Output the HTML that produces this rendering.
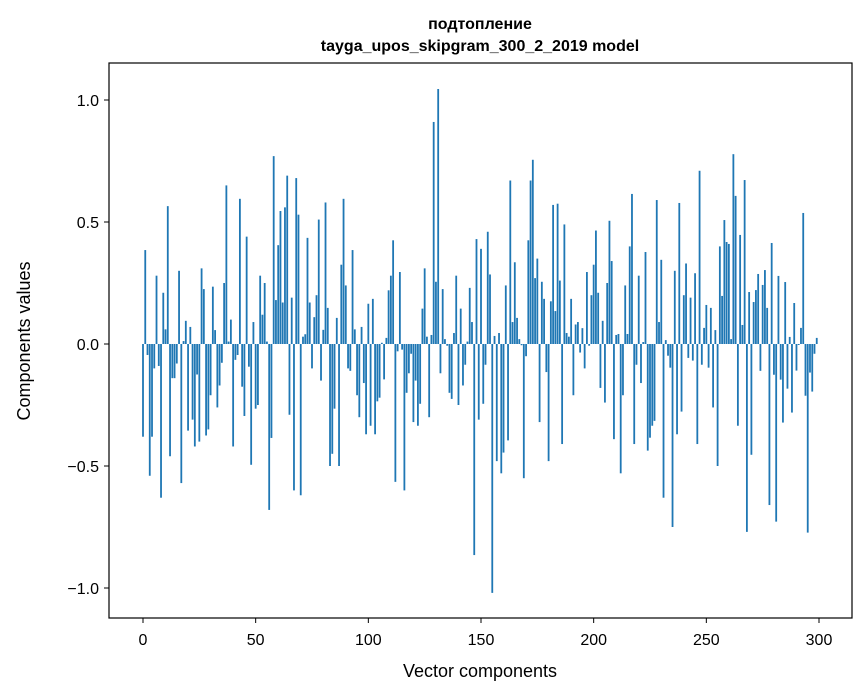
<!DOCTYPE html>
<html><head><meta charset="utf-8">
<style>
html,body{margin:0;padding:0;background:#fff;}
svg{display:block;font-family:"Liberation Sans","DejaVu Sans",sans-serif;}
</style></head>
<body>
<svg id="chart" width="867" height="696" viewBox="0 0 867 696">
<rect width="867" height="696" fill="#fff"/>
<text x="480" y="29" text-anchor="middle" font-size="16" font-weight="bold">подтопление</text>
<text x="480" y="51" text-anchor="middle" font-size="16" font-weight="bold">tayga_upos_skipgram_300_2_2019 model</text>
<g id="bars"></g>
<rect x="109" y="63" width="743" height="555" fill="none" stroke="#000" stroke-width="1.2"/>
<g id="xticks"></g>
<g id="yticks"></g>
<text x="480" y="677" text-anchor="middle" font-size="18">Vector components</text>
<text transform="translate(30,341) rotate(-90)" text-anchor="middle" font-size="18">Components values</text>
</svg>
<script>
const values = [
-0.38,0.385,-0.045,-0.54,-0.38,-0.10,0.28,-0.09,-0.63,0.21,
0.06,0.565,-0.46,-0.14,-0.14,-0.08,0.30,-0.57,0.012,0.095,
-0.355,0.07,-0.31,-0.42,-0.125,-0.40,0.31,0.225,-0.375,-0.35,
-0.21,0.235,0.057,-0.26,-0.17,-0.077,0.25,0.65,0.01,0.10,
-0.42,-0.065,-0.045,0.595,-0.175,-0.295,0.44,-0.093,-0.495,0.09,
-0.265,-0.25,0.28,0.12,0.25,0.01,-0.68,-0.385,0.77,0.18,
0.405,0.545,0.17,0.56,0.69,-0.29,0.19,-0.6,0.68,0.53,
-0.62,0.03,0.04,0.435,0.17,-0.1,0.11,0.2,0.51,-0.15,
0.058,0.58,0.148,-0.5,-0.45,-0.265,0.107,-0.5,0.325,0.595,
0.24,-0.10,-0.11,0.385,0.06,-0.21,-0.30,0.07,-0.16,-0.37,
0.165,-0.335,0.185,-0.37,-0.235,-0.22,0.005,-0.145,0.025,0.22,
0.28,0.425,-0.565,-0.03,0.295,-0.023,-0.6,-0.2,-0.12,-0.04,
-0.32,-0.15,-0.335,-0.245,0.145,0.31,0.03,-0.3,0.037,0.91,
0.255,1.045,-0.12,0.225,0.02,-0.007,-0.2,-0.225,0.045,0.28,
-0.25,0.145,-0.17,-0.085,0.01,0.23,0.09,-0.865,0.43,-0.31,
0.39,-0.245,-0.085,0.46,0.285,-1.02,0.033,-0.48,0.045,-0.53,
-0.445,0.24,-0.395,0.67,0.09,0.335,0.107,0.02,-0.005,-0.55,
-0.05,0.425,0.67,0.755,0.27,0.35,-0.32,0.255,0.185,-0.115,
-0.48,0.175,0.57,0.135,0.575,0.26,-0.41,0.49,0.045,0.03,
0.185,-0.21,0.08,0.09,-0.035,0.065,-0.1,0.295,-0.007,0.2,
0.325,0.465,0.21,-0.18,0.095,-0.24,0.25,0.505,0.34,-0.39,
0.037,0.041,-0.53,-0.21,0.24,0.041,0.40,0.615,-0.41,-0.085,
0.28,-0.16,0.008,0.377,-0.437,-0.384,-0.335,-0.315,0.59,0.09,
0.345,-0.63,0.016,-0.048,-0.097,-0.75,0.3,-0.37,0.578,-0.277,
0.2,0.33,-0.057,0.19,-0.068,0.29,-0.41,0.71,-0.085,0.066,
0.16,-0.097,0.148,-0.26,0.057,-0.5,0.40,0.197,0.508,0.418,
0.41,0.02,0.778,0.607,-0.335,0.447,0.078,0.672,-0.77,0.213,
-0.454,0.172,0.221,0.287,-0.11,0.242,0.303,0.148,-0.66,0.414,
-0.126,-0.728,0.279,-0.146,-0.322,0.254,-0.183,0.029,-0.281,0.168,
-0.109,-0.004,0.066,0.537,-0.212,-0.773,-0.117,-0.195,-0.04,0.025
];
const xTicks = [0,50,100,150,200,250,300];
const yTicks = [-1.0,-0.5,0.0,0.5,1.0];
const yTickLabels = ["\u22121.0","\u22120.5","0.0","0.5","1.0"];

const NS = "http://www.w3.org/2000/svg";
function xScale(v){ return 143 + v * (676/300); }
function yScale(v){ return 344 - v * 244; }
const barW = 0.8 * (676/300);

const barsG = document.getElementById('bars');
values.forEach((v,i)=>{
  const r = document.createElementNS(NS,'rect');
  const y0 = yScale(0), y1 = yScale(v);
  r.setAttribute('x', xScale(i) - barW/2);
  r.setAttribute('y', Math.min(y0,y1));
  r.setAttribute('width', barW);
  r.setAttribute('height', Math.abs(y1-y0));
  r.setAttribute('fill', '#1f77b4');
  
  
  barsG.appendChild(r);
});

const xg = document.getElementById('xticks');
xTicks.forEach(t=>{
  const x = xScale(t);
  const l = document.createElementNS(NS,'line');
  l.setAttribute('x1',x); l.setAttribute('x2',x);
  l.setAttribute('y1',618); l.setAttribute('y2',623);
  l.setAttribute('stroke','#000'); l.setAttribute('stroke-width','1');
  
  
  xg.appendChild(l);
  const tx = document.createElementNS(NS,'text');
  tx.setAttribute('x',x); tx.setAttribute('y',645);
  tx.setAttribute('text-anchor','middle'); tx.setAttribute('font-size','16');
  tx.textContent = t;
  
  
  xg.appendChild(tx);
});

const yg = document.getElementById('yticks');
yTicks.forEach((t,i)=>{
  const y = yScale(t);
  const l = document.createElementNS(NS,'line');
  l.setAttribute('x1',104); l.setAttribute('x2',109);
  l.setAttribute('y1',y); l.setAttribute('y2',y);
  l.setAttribute('stroke','#000'); l.setAttribute('stroke-width','1');
  
  
  yg.appendChild(l);
  const tx = document.createElementNS(NS,'text');
  tx.setAttribute('x',99); tx.setAttribute('y',y+6);
  tx.setAttribute('text-anchor','end'); tx.setAttribute('font-size','16');
  tx.textContent = yTickLabels[i];
  
  
  yg.appendChild(tx);
});
</script>
</body></html>
